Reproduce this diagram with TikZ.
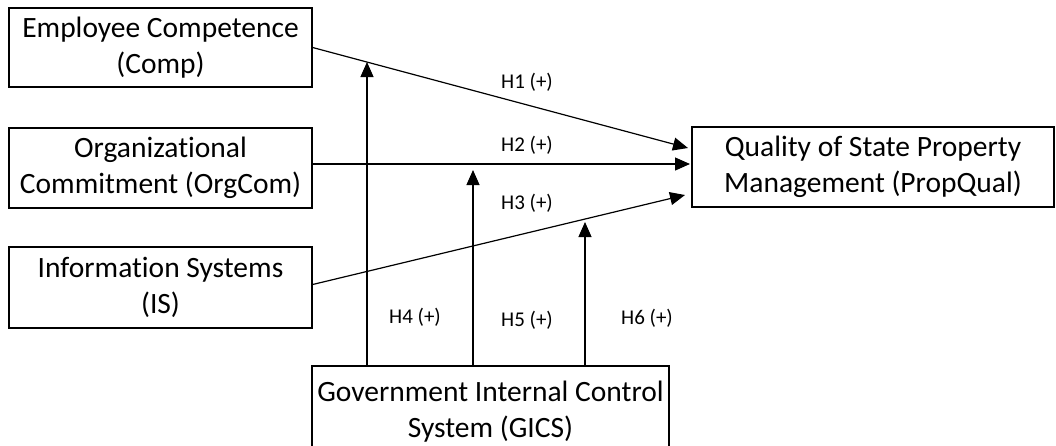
\documentclass[tikz,border=0pt]{standalone}
\usepackage{fontspec}
\setmainfont{Carlito}[Ligatures=NoCommon]
\usetikzlibrary{arrows.meta,shadows}
\begin{document}
\begin{tikzpicture}[x=1pt,y=-1pt,
  box/.style={draw=black,line width=1.3pt,fill=white,inner sep=0pt,align=center,
    font=\fontsize{29.5}{36}\selectfont,
    drop shadow={shadow xshift=1.4pt,shadow yshift=-1.4pt,fill=black,opacity=1}},
  conn/.style={line width=1.2pt,-{Triangle[length=15pt,width=13pt]}},
  lab/.style={font=\fontsize{21}{25}\selectfont,inner sep=0pt}]
\useasboundingbox (0,0) rectangle (1056,445);
\clip (0,0) rectangle (1056,445);
\fill[white] (0,0) rectangle (1056,445);

\node[box,minimum width=303pt,minimum height=79pt] (comp) at (160.5,47.5) {Employee Competence\\(Comp)};
\node[box,minimum width=303pt,minimum height=80pt] (org) at (160.5,168) {Organizational\\Commitment (OrgCom)};
\node[box,minimum width=303pt,minimum height=81pt] (is) at (160.5,287.5) {Information Systems\\(IS)};
\node[box,minimum width=362pt,minimum height=80pt] (pq) at (873,167) {Quality of State Property\\Management (PropQual)};
\node[box,minimum width=357pt,minimum height=92pt] (gics) at (490.5,412) {Government Internal Control\\System (GICS)};

\coordinate (t1) at (688,148);
\coordinate (t2) at (690,164);
\coordinate (t3) at (685,195);
\coordinate (h4) at (367,62);
\coordinate (h5) at (473,170);
\coordinate (h6) at (585,222);

\draw[conn] (comp.east) -- (t1);
\draw[conn] (org.east |- t2) -- (t2);
\draw[conn] ([yshift=3pt]is.east) -- (t3);
\draw[conn] (h4 |- gics.north) -- (h4);
\draw[conn] (h5 |- gics.north) -- (h5);
\draw[conn] (h6 |- gics.north) -- (h6);

\node[lab] (l1) at (527,82) {H1 (+)};
\node[lab] (l2) at (527,145) {H2 (+)};
\node[lab] (l3) at (527,203) {H3 (+)};
\node[lab] (l4) at (415,317) {H4 (+)};
\node[lab] (l5) at (527,320) {H5 (+)};
\node[lab] (l6) at (647,318) {H6 (+)};
\end{tikzpicture}
\end{document}
